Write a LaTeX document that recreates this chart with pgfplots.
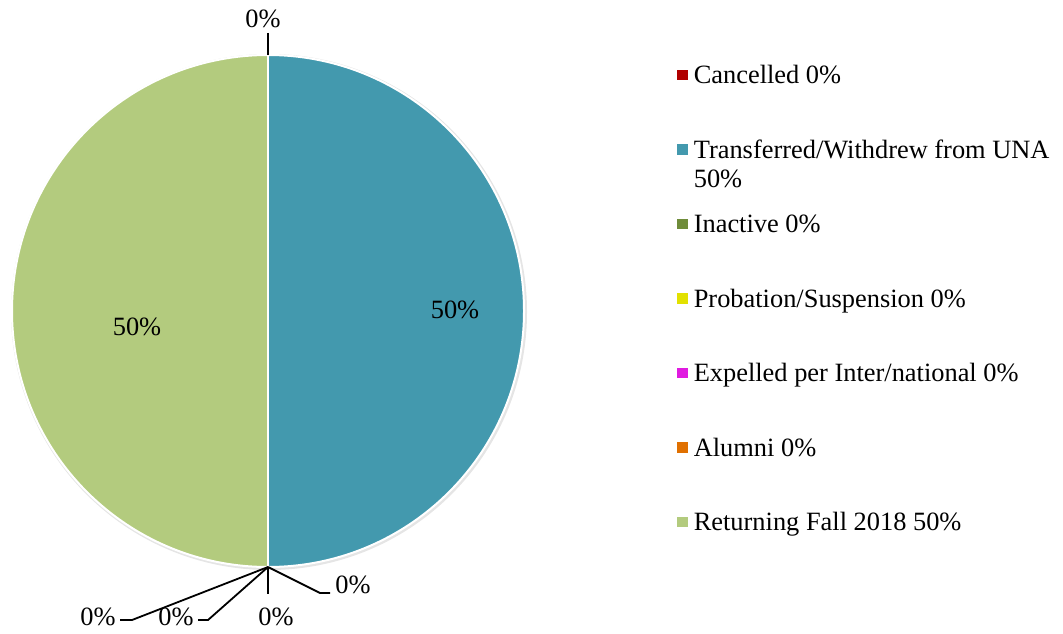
\documentclass[border=0pt]{standalone}
\usepackage{pgfplots}
\pgfplotsset{compat=1.18}
\usepackage{fontspec}
\setmainfont{Liberation Serif}
\definecolor{canc}{HTML}{B00000}
\definecolor{trans}{HTML}{4399AE}
\definecolor{inact}{HTML}{6F8C3A}
\definecolor{prob}{HTML}{E2E100}
\definecolor{expel}{HTML}{E01BE0}
\definecolor{alum}{HTML}{E07000}
\definecolor{ret}{HTML}{B3CB7E}
\begin{document}
\begin{tikzpicture}[font=\fontsize{13.2}{14.5}\selectfont]
\begin{axis}[
    x=0.5pt, y=0.5pt,
    xmin=0, xmax=1063, ymin=0, ymax=633,
    hide axis, clip=false,
    legend style={at={(axis cs:677,570)}, anchor=north west, draw=none, fill=none,
        inner sep=0pt, row sep=25.6pt, column sep=3pt, nodes={inner sep=0pt},
        font=\fontsize{13.2}{14.5}\selectfont},
    legend cell align=left,
    legend image code/.code={\fill[#1, draw=none] (0pt,-2.6pt) rectangle (5.2pt,2.6pt);},
]
% page frame (the hidden axis adds nothing to the bounding box)
\path (axis cs:0,0) rectangle (axis cs:1063,633);
% shares: Cancelled 0, Transferred 50, Inactive 0, Probation 0,
% Expelled 0, Alumni 0, Returning 50 -> 50% = 180 deg, clockwise from top
\fill[black!10] (axis cs:269,321) circle[radius=129pt];
\fill[trans] (axis cs:268,322) -- (axis cs:268,578) arc[start angle=90, end angle=-90, radius=128pt] -- cycle;
\fill[ret] (axis cs:268,322) -- (axis cs:268,578) arc[start angle=90, end angle=270, radius=128pt] -- cycle;
\draw[white, line width=1pt] (axis cs:268,322) circle[radius=128pt];
\draw[white, line width=1pt] (axis cs:268,578) -- (axis cs:268,66);

% data labels
\node at (axis cs:455,323) {50\%};
\node at (axis cs:137,306) {50\%};
\draw[line width=0.9pt] (axis cs:268,600) -- (axis cs:268,578);
\node at (axis cs:263,614) {0\%};
\draw[line width=0.9pt] (axis cs:268,66) -- (axis cs:320,40) -- (axis cs:330,40);
\node at (axis cs:353,48) {0\%};
\draw[line width=0.9pt] (axis cs:268,66) -- (axis cs:268,39);
\node at (axis cs:276,16) {0\%};
\draw[line width=0.9pt] (axis cs:268,66) -- (axis cs:208,13) -- (axis cs:198,13);
\node at (axis cs:176,16) {0\%};
\draw[line width=0.9pt] (axis cs:268,66) -- (axis cs:132,13) -- (axis cs:120,13);
\node at (axis cs:98,16) {0\%};

\addlegendimage{fill=canc}
\addlegendentry{Cancelled 0\%\strut}
\addlegendimage{fill=trans}
\addlegendentry{\raisebox{0pt}[\ht\strutbox][\dp\strutbox]{\begin{tabular}[t]{@{}l@{}}Transferred/Withdrew from UNA\strut\\50\%\strut\end{tabular}}}
\addlegendimage{fill=inact}
\addlegendentry{Inactive 0\%\strut}
\addlegendimage{fill=prob}
\addlegendentry{Probation/Suspension 0\%\strut}
\addlegendimage{fill=expel}
\addlegendentry{Expelled per Inter/national 0\%\strut}
\addlegendimage{fill=alum}
\addlegendentry{Alumni 0\%\strut}
\addlegendimage{fill=ret}
\addlegendentry{Returning Fall 2018 50\%\strut}
\end{axis}
\end{tikzpicture}
\end{document}
